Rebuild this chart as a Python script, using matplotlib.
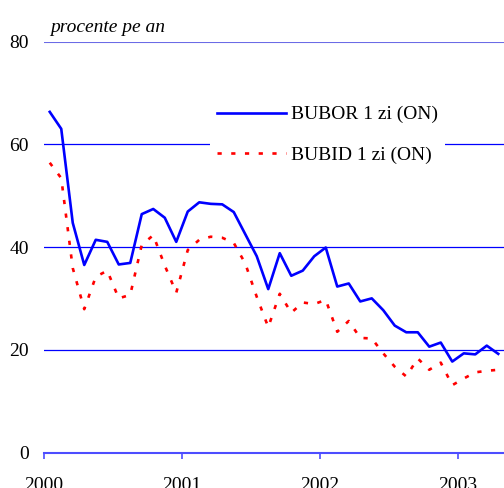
'''
BUBOR / BUBID overnight rates, 2000 - 2003
'''
import numpy as np
import matplotlib
matplotlib.use('Agg')
import matplotlib.pyplot as plt

# ----------------------------
months     = np.arange(40)
year_ticks = [0, 12, 24, 36]
year_label = ['2000', '2001', '2002', '2003']
y_ticks    = [0, 20, 40, 60, 80]

bubor = [66.3, 63.0, 44.7, 36.5, 41.4, 41.0, 36.6, 36.9, 46.4, 47.4,
         45.7, 41.0, 46.9, 48.7, 48.4, 48.3, 46.8, 42.5, 38.2, 31.8,
         38.8, 34.4, 35.4, 38.2, 39.9, 32.3, 32.9, 29.4, 30.0, 27.7,
         24.7, 23.4, 23.4, 20.6, 21.4, 17.7, 19.3, 19.1, 20.8, 19.2]

bubid = [56.4, 53.4, 35.9, 27.9, 34.2, 35.4, 30.0, 30.7, 40.4, 42.3,
         36.4, 31.1, 39.4, 41.4, 42.0, 41.8, 40.8, 36.8, 30.3, 24.4,
         30.9, 27.2, 29.2, 28.9, 29.7, 23.5, 25.6, 22.3, 22.2, 19.3,
         16.7, 14.8, 18.3, 16.1, 17.5, 13.1, 14.4, 15.6, 15.9, 16.1]

lab_bubor = 'BUBOR 1 zi (ON)'
lab_bubid = 'BUBID 1 zi (ON)'
unit      = 'procente pe an'
# ----------------------------
def _style_axes(ax) -> None:
    for name in ['top', 'right', 'left']:
        ax.spines[name].set_visible(False)

    ax.spines['bottom'].set_color('#4d4dff')
    ax.spines['bottom'].set_linewidth(1.5)

    for val in y_ticks[1:-1]:
        ax.axhline(val, color='#0000ff', lw=0.9, zorder=1)
    ax.axhline(y_ticks[-1], color='#6b6be6', lw=1.5, zorder=1)

    ax.set_xlim(0, 40)
    ax.set_ylim(0, 80)
    ax.set_yticks(y_ticks)
    ax.set_xticks(year_ticks)
    ax.set_xticklabels(year_label)

    ax.tick_params(axis='y', length=0, pad=10.8, labelsize=14)
    ax.tick_params(axis='x', length=4.3, width=1.2, color='#4d4dff', direction='out', pad=13.3, labelsize=14)
# ----------------------------
def main() -> None:
    plt.rcParams['font.family'] = ['Liberation Serif', 'DejaVu Serif']

    fig = plt.figure(figsize=(5.04, 4.88), dpi=100)
    ax  = fig.add_axes([44 / 504, 35.5 / 488, 460 / 504, 411 / 488])

    _style_axes(ax)

    xpos = months + 0.5
    ax.plot(xpos, bubor, color='#0000ff', lw=1.9, label=lab_bubor, zorder=3)
    ax.plot(xpos, bubid, color='#ff0000', lw=1.9, ls=(0, (1.6, 3.6)), label=lab_bubid, zorder=3)

    leg = ax.legend(loc='upper left',
                    bbox_to_anchor=(210 / 504, 1 - 99 / 488),
                    bbox_transform=fig.transFigure,
                    fontsize=14,
                    frameon=True,
                    fancybox=False,
                    borderpad=0.35,
                    borderaxespad=0,
                    handlelength=3.55,
                    handletextpad=0.26,
                    labelspacing=1.16)
    leg.get_frame().set_facecolor('white')
    leg.get_frame().set_edgecolor('none')
    leg.get_frame().set_alpha(1.0)

    fig.text(50 / 504, 1 - 32 / 488, unit, style='italic', fontsize=14, va='baseline', ha='left')

    fig.savefig('out.png', dpi=100)
    plt.close(fig)
# ----------------------------
if __name__ == '__main__':
    main()
